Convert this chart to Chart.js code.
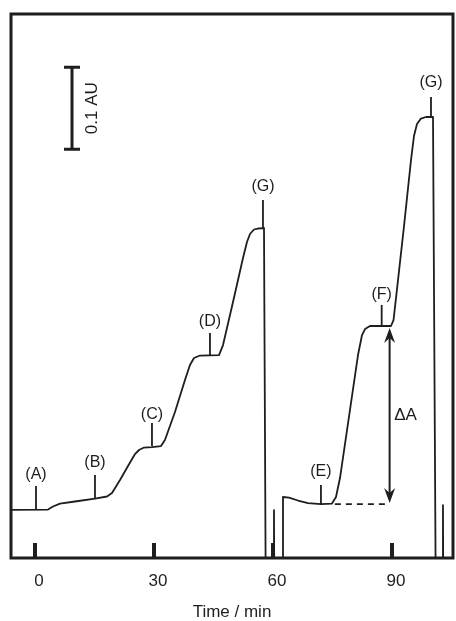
<!DOCTYPE html>
<html>
<head>
<meta charset="utf-8">
<script src="https://cdn.jsdelivr.net/npm/chart.js@4"></script>
<style>
  html, body { margin: 0; padding: 0; background: #fff; }
  #wrap { width: 456px; height: 621px; }
</style>
</head>
<body>
<div id="wrap"><canvas id="absChart" width="456" height="621"></canvas></div>
<script>
// Absorbance trace (time in min, absorbance in AU relative to the starting baseline)
// values below the axis minimum are the off-scale dips of the trace
const traceTime = [-8.8, 3.28, 4.54, 6.3, 10.08, 15.12, 18.15, 19.41, 21.43, 23.45, 25.21, 26.22, 27.48, 29.49,
  31.76, 32.76, 35.29, 37.81, 39.07, 40.08, 41.6, 46.39, 47.4, 49.92, 52.44, 53.44, 54.2, 55.21, 56.22, 57.73,
  58.23, 60.13, 60.25, 60.38, 62.39, 62.52, 64.03, 66.3, 68.82, 72.1, 74.87, 75.88, 76.89, 79.41, 81.43, 82.44,
  83.2, 84.46, 89.75, 90.38, 91.01, 93.03, 94.79, 95.54, 96.3, 97.31, 98.57, 100.34, 101.1, 102.73, 102.85,
  102.98, 109.7];
const traceAbs = [0, 0.0006, 0.0043, 0.0079, 0.0104, 0.014, 0.0165, 0.0207, 0.0366, 0.0537, 0.0683, 0.0732, 0.0762, 0.0768,
  0.078, 0.0854, 0.1195, 0.1585, 0.1768, 0.1854, 0.1884, 0.189, 0.2012, 0.2537, 0.3073, 0.3268, 0.3366, 0.3421, 0.3433, 0.3439,
  -0.16, -0.16, 0, -0.16, -0.16, 0.0159, 0.0152, 0.0116, 0.0085, 0.0073, 0.0079, 0.0159, 0.039, 0.122, 0.189, 0.2134,
  0.2207, 0.2244, 0.2244, 0.2317, 0.2585, 0.3463, 0.4268, 0.4561, 0.4707, 0.4774, 0.4793, 0.4793, -0.16, -0.16, 0.0061,
  -0.16, -0.16];

// Event markers (A)-(G): time, bottom and top of the marker line, label height
const markerLabels = ['(A)', '(B)', '(C)', '(D)', '(G)', '(E)', '(F)', '(G)'];
const markerTime = [0.25, 15.12, 29.49, 44.11, 57.47, 72.09, 87.4, 99.83];
const markerLow = [0.001, 0.0146, 0.078, 0.189, 0.3439, 0.0073, 0.2244, 0.4793];
const markerHigh = [0.0293, 0.0427, 0.1061, 0.2159, 0.378, 0.0305, 0.25, 0.5037];
const markerLabelAbs = [0.0427, 0.0573, 0.1159, 0.2293, 0.3939, 0.0463, 0.2622, 0.5207];

// Extrapolated baseline under (E) and the ΔA arrow
const dashTime = [75.6, 89.0];
const dashAbs = [0.0073, 0.0073];
const deltaTime = 89.4;
const deltaAbs = [0.0085, 0.222];

// 0.1 AU scale bar
const barTime = 9.33;
const barAbs = [0.44, 0.54];

// Axis
const xTicks = [0, 30, 60, 90];
const xMin = -6.05, xMax = 105.38;
const yMin = -0.0585, yMax = 0.6049;

const ink = '#1e1e1e';
const fontFamily = '"Liberation Sans", Arial, Helvetica, sans-serif';

// marker lines as one dataset, separated by gaps
const markerPoints = [];
markerTime.forEach((t, i) => {
  markerPoints.push({ x: t, y: markerLow[i] }, { x: t, y: markerHigh[i] }, { x: t, y: null });
});

// frame, inward ticks, labels, scale bar and arrow
const annotations = {
  id: 'annotations',
  afterDatasetsDraw(chart) {
    const { ctx, chartArea: area, scales: { x, y } } = chart;
    ctx.save();
    ctx.strokeStyle = ink;
    ctx.fillStyle = ink;

    // frame
    ctx.lineWidth = 3;
    ctx.strokeRect(area.left, area.top, area.right - area.left, area.bottom - area.top);

    // inward x ticks
    ctx.lineWidth = 4;
    xTicks.forEach(v => {
      const px = x.getPixelForValue(v);
      ctx.beginPath();
      ctx.moveTo(px, area.bottom);
      ctx.lineTo(px, area.bottom - 15);
      ctx.stroke();
    });

    // marker labels
    ctx.font = '16px ' + fontFamily;
    ctx.textAlign = 'center';
    ctx.textBaseline = 'middle';
    markerLabels.forEach((lab, i) => {
      ctx.fillText(lab, x.getPixelForValue(markerTime[i]), y.getPixelForValue(markerLabelAbs[i]));
    });

    // scale bar
    const bx = x.getPixelForValue(barTime);
    const b0 = y.getPixelForValue(barAbs[0]);
    const b1 = y.getPixelForValue(barAbs[1]);
    ctx.lineWidth = 3;
    ctx.beginPath();
    ctx.moveTo(bx, b0); ctx.lineTo(bx, b1);
    ctx.moveTo(bx - 8, b0); ctx.lineTo(bx + 8, b0);
    ctx.moveTo(bx - 8, b1); ctx.lineTo(bx + 8, b1);
    ctx.stroke();
    ctx.save();
    ctx.translate(bx + 20, (b0 + b1) / 2);
    ctx.rotate(-Math.PI / 2);
    ctx.font = '17px ' + fontFamily;
    ctx.fillText('0.1 AU', 0, 0);
    ctx.restore();

    // ΔA double arrow
    const ax = x.getPixelForValue(deltaTime);
    const aLow = y.getPixelForValue(deltaAbs[0]);
    const aHigh = y.getPixelForValue(deltaAbs[1]);
    ctx.lineWidth = 2;
    ctx.beginPath();
    ctx.moveTo(ax, aLow - 6); ctx.lineTo(ax, aHigh + 6);
    ctx.stroke();
    const head = (tipY, dir) => {
      ctx.beginPath();
      ctx.moveTo(ax, tipY);
      ctx.lineTo(ax - 5.5, tipY + dir * 15);
      ctx.lineTo(ax, tipY + dir * 10);
      ctx.lineTo(ax + 5.5, tipY + dir * 15);
      ctx.closePath();
      ctx.fill();
    };
    head(aHigh, 1);
    head(aLow, -1);
    ctx.font = '17px ' + fontFamily;
    ctx.fillText('ΔA', ax + 16, y.getPixelForValue(0.115));

    ctx.restore();
  }
};

new Chart(document.getElementById('absChart'), {
  type: 'line',
  data: {
    datasets: [
      {
        data: traceTime.map((t, i) => ({ x: t, y: traceAbs[i] })),
        borderColor: ink,
        borderWidth: 1.8,
        borderJoinStyle: 'round',
        pointRadius: 0,
        tension: 0
      },
      {
        data: markerPoints,
        borderColor: ink,
        borderWidth: 1.8,
        pointRadius: 0,
        spanGaps: false
      },
      {
        data: dashTime.map((t, i) => ({ x: t, y: dashAbs[i] })),
        borderColor: ink,
        borderWidth: 1.8,
        borderDash: [6, 5],
        pointRadius: 0
      }
    ]
  },
  options: {
    responsive: false,
    animation: false,
    layout: { padding: { left: 11, right: 3, top: 14, bottom: 0 } },
    plugins: { legend: { display: false }, tooltip: { enabled: false } },
    scales: {
      x: {
        type: 'linear',
        min: xMin,
        max: xMax,
        afterBuildTicks: scale => { scale.ticks = xTicks.map(v => ({ value: v })); },
        afterFit: scale => { scale.height = 63; },
        grid: { display: false, drawTicks: false },
        border: { display: false },
        ticks: {
          color: ink,
          font: { family: fontFamily, size: 17 },
          padding: 13,
          labelOffset: 4,
          maxRotation: 0
        },
        title: {
          display: true,
          text: 'Time / min',
          color: ink,
          font: { family: fontFamily, size: 17 },
          padding: { top: 0, bottom: -2 }
        }
      },
      y: {
        display: false,
        min: yMin,
        max: yMax
      }
    }
  },
  plugins: [annotations]
});
</script>
</body>
</html>
